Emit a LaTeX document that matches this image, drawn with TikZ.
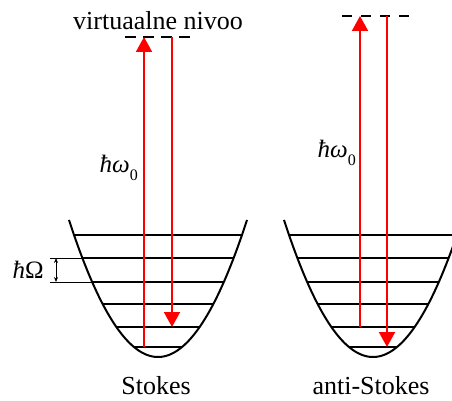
\documentclass[tikz,border=0pt]{standalone}
\usepackage{fontspec}
\setmainfont{Liberation Serif}
\usetikzlibrary{arrows.meta}
\newcommand{\hbarw}{{\itshape ħω}\raisebox{-0.3em}{\fontsize{16}{16}\selectfont 0}}
\newcommand{\hbarO}{{\itshape ħ}Ω}
\begin{document}
\begin{tikzpicture}[x=1pt,y=-1pt,
  wellline/.style={line width=2pt,black},
  levelline/.style={line width=2pt,black},
  photon/.style={line width=2pt,red,-{Triangle[width=16pt,length=15pt]}},
  virtlevel/.style={line width=2pt,black,dash pattern=on 11pt off 7pt},
  dimarrow/.style={line width=0.8pt,black,{Stealth[length=5pt,width=4pt]}-{Stealth[length=5pt,width=4pt]}},
  lbl/.style={inner sep=0pt,font=\fontsize{26}{30}\selectfont},
  mlbl/.style={inner sep=0pt,font=\fontsize{25}{28}\selectfont}]
\clip (0,0) rectangle (452,401);
% wells
\draw[wellline] plot[domain=-89:89,samples=80,smooth] ({158+\x},{357-0.0173*\x*\x});
\draw[wellline] plot[domain=-89:89,samples=80,smooth] ({373+\x},{357-0.0173*\x*\x});
% levels
\foreach \yy [count=\n from 0] in {347,327,304,282,258,235}{
  \pgfmathsetmacro{\hw}{sqrt((357-\yy)/0.0173)}
  \coordinate (L\n a) at ({158-\hw},\yy);
  \coordinate (L\n b) at ({158+\hw},\yy);
  \coordinate (R\n a) at ({373-\hw},\yy);
  \coordinate (R\n b) at ({373+\hw},\yy);
  \draw[levelline] (L\n a) -- (L\n b);
  \draw[levelline] (R\n a) -- (R\n b);
}
% extensions for hbar Omega
\coordinate (E4) at (50,258);
\coordinate (E3) at (50,282);
\draw[line width=1pt] (E4) -- (L4a);
\draw[line width=1pt] (E3) -- (L3a);
\coordinate (D4) at (56,258);
\coordinate (D3) at (56,282);
\draw[dimarrow] (D4) -- (D3);
\node[mlbl,anchor=east] (hO) at (44,270) {\hbarO};
% virtual levels
\coordinate (VLa) at (125,37); \coordinate (VLb) at (193,37);
\coordinate (VRa) at (342,16); \coordinate (VRb) at (410,16);
\draw[virtlevel] (VLa) -- (VLb);
\draw[virtlevel,dash pattern=on 10pt off 9pt] (VRa) -- (VRb);
% photons left (Stokes)
\coordinate (SL0) at (144,347);
\coordinate (SLt) at (144,37);
\coordinate (SLd) at (172,37);
\coordinate (SL1) at (172,327);
\draw[photon] (SL0) -- (SLt);
\draw[photon] (SLd) -- (SL1);
% photons right (anti-Stokes)
\coordinate (AS1) at (360,327);
\coordinate (ASt) at (360,16);
\coordinate (ASd) at (387,16);
\coordinate (AS0) at (387,347);
\draw[photon] (AS1) -- (ASt);
\draw[photon] (ASd) -- (AS0);
% labels
\node[lbl] (virt) at (158,21) {virtuaalne nivoo};
\node[mlbl,anchor=east] (hw1) at (138,168) {\hbarw};
\node[mlbl,anchor=east] (hw2) at (356,153) {\hbarw};
\node[lbl] (st) at (156,386) {Stokes};
\node[lbl] (ast) at (371,386) {anti-Stokes};
\end{tikzpicture}
\end{document}
